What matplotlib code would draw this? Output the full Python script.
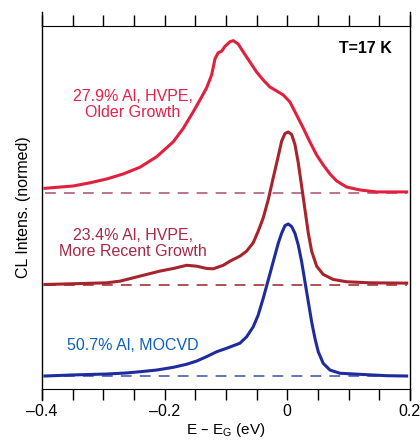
import numpy as np
import matplotlib
matplotlib.use("Agg")
import matplotlib.pyplot as plt

plt.rcParams['font.family'] = ['Liberation Sans', 'DejaVu Sans']

# energy relative to gap (eV) and normalised CL intensity
e_red = [-0.3951, -0.3490, -0.3217, -0.2945, -0.2674, -0.2402, -0.2130, -0.1859,
         -0.1696, -0.1533, -0.1424, -0.1315, -0.1233, -0.1179, -0.1126, -0.1070,
         -0.1016, -0.0935, -0.0881, -0.0800, -0.0718, -0.0609, -0.0500, -0.0392,
         -0.0283, -0.0173, -0.0066, 0.0043, 0.0153, 0.0260, 0.0370, 0.0479,
         0.0586, 0.0696, 0.0805, 0.0968, 0.1185, 0.1457, 0.1946]
i_red = [0.031, 0.046, 0.067, 0.092, 0.125, 0.169, 0.238, 0.336,
         0.424, 0.533, 0.610, 0.690, 0.775, 0.880, 0.920, 0.930,
         0.962, 0.992, 0.999, 0.977, 0.925, 0.859, 0.793, 0.741,
         0.695, 0.669, 0.643, 0.597, 0.511, 0.426, 0.334, 0.249,
         0.184, 0.125, 0.079, 0.039, 0.020, 0.007, 0.007]

e_mar = [-0.3951, -0.3490, -0.2945, -0.2728, -0.2511, -0.2293, -0.2076, -0.1859,
         -0.1641, -0.1478, -0.1315, -0.1207, -0.1044, -0.0935, -0.0772, -0.0663,
         -0.0555, -0.0474, -0.0392, -0.0310, -0.0229, -0.0147, -0.0092, -0.0038,
         0.0016, 0.0071, 0.0125, 0.0179, 0.0234, 0.0288, 0.0342, 0.0397,
         0.0479, 0.0586, 0.0749, 0.0968, 0.1348, 0.1946]
i_mar = [0.0, 0.005, 0.011, 0.022, 0.044, 0.066, 0.088, 0.105,
         0.126, 0.120, 0.105, 0.103, 0.126, 0.153, 0.186, 0.219,
         0.274, 0.350, 0.437, 0.557, 0.700, 0.842, 0.940, 0.990,
         1.0, 0.984, 0.918, 0.798, 0.645, 0.492, 0.339, 0.219,
         0.120, 0.066, 0.033, 0.018, 0.011, 0.009]

e_blu = [-0.3951, -0.3490, -0.2945, -0.2619, -0.2402, -0.2130, -0.1859, -0.1641,
         -0.1478, -0.1315, -0.1152, -0.0989, -0.0772, -0.0663, -0.0555, -0.0474,
         -0.0392, -0.0310, -0.0229, -0.0147, -0.0092, -0.0038, 0.0016, 0.0071,
         0.0125, 0.0179, 0.0234, 0.0288, 0.0342, 0.0397, 0.0451, 0.0505,
         0.0586, 0.0696, 0.0859, 0.1185, 0.1620, 0.1946]
i_blu = [0.0, 0.007, 0.013, 0.020, 0.028, 0.039, 0.057, 0.077,
         0.098, 0.127, 0.159, 0.182, 0.215, 0.257, 0.323, 0.400,
         0.510, 0.630, 0.750, 0.871, 0.936, 0.986, 0.997, 0.980,
         0.936, 0.859, 0.750, 0.619, 0.488, 0.356, 0.247, 0.159,
         0.083, 0.039, 0.018, 0.011, 0.002, 0.0]

offsets = [1.2, 0.6, 0.0]
labels = ["27.9% Al, HVPE,\nOlder Growth",
          "23.4% Al, HVPE,\nMore Recent Growth",
          "50.7% Al, MOCVD"]
label_y = [1.78, 0.872, 0.197]
line_cols = ["#e0203c", "#a8242c", "#1e2c9c"]
dash_cols = ["#b86888", "#a84444", "#5a68b8"]
text_cols = ["#e82048", "#a82848", "#1060b8"]

fig = plt.figure(figsize=(4.2, 4.41), dpi=100)
ax = fig.add_axes([0.1, 0.118, 0.876, 0.823])

curves = [(e_red, i_red), (e_mar, i_mar), (e_blu, i_blu)]
for k, (e, inten) in enumerate(curves):
    off = offsets[k]
    ax.plot([e[0], e[-1]], [off, off], ls=(0, (6, 4.5)), lw=1.3, color=dash_cols[k])
    ax.plot(e, np.array(inten) + off, color=line_cols[k], lw=2.2,
            solid_joinstyle='round')
    ax.text(-0.2516, label_y[k], labels[k], color=text_cols[k], fontsize=11.5,
            ha='center', va='center', linespacing=1.08)

ax.text(0.128, 2.15, "T=17 K", fontsize=11.5, fontweight='bold', ha='center',
        va='center')

ax.set_xlim(-0.4, 0.2)
ax.set_ylim(-0.085, 2.295)
ax.set_yticks([])
ax.set_xticks([-0.4, -0.2, 0.0, 0.2])
ax.set_xticklabels(["\u20130.4", "\u20130.2", "0", "0.2"])
ax.set_xticks(np.arange(-0.4, 0.2001, 0.05), minor=True)
ax.tick_params(axis='x', which='both', direction='out', length=8, width=1,
               top=True, labeltop=False, labelsize=11.5, pad=3)
ax.spines['left'].set_visible(False)
ax.spines['right'].set_visible(False)
for xs in (0, 1):
    ax.plot([xs, xs], [-0.03, 1.039], transform=ax.transAxes, color='black',
            lw=1, clip_on=False)

ax.set_xlabel("E \u2013 E$_\\mathregular{G}$ (eV)", fontsize=11, labelpad=1)
ax.set_ylabel("CL Intens. (normed)", fontsize=11.5, labelpad=8)

fig.savefig("out.png", dpi=100)
